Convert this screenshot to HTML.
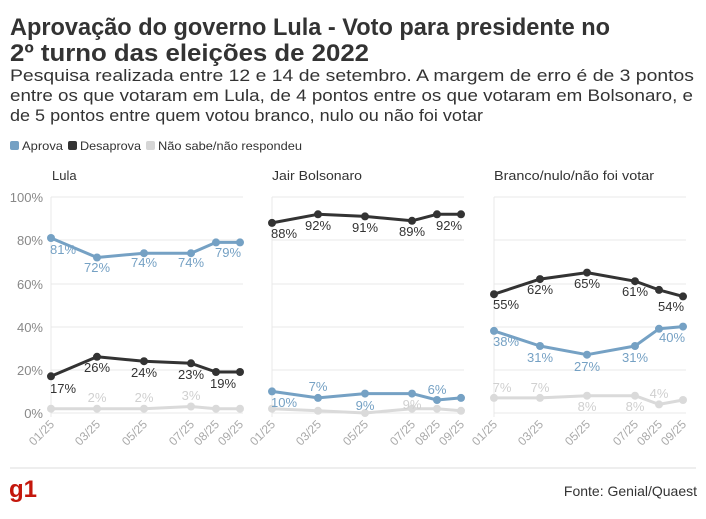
<!DOCTYPE html>
<html><head><meta charset="utf-8"><style>
body{margin:0;width:706px;height:514px;background:#fff;font-family:"Liberation Sans",sans-serif;overflow:hidden}
</style></head><body>
<svg width="706" height="514" xmlns="http://www.w3.org/2000/svg" font-family="Liberation Sans, sans-serif">
<text x="10" y="35" font-size="24" font-weight="bold" fill="#333" textLength="600" lengthAdjust="spacingAndGlyphs">Aprovação do governo Lula - Voto para presidente no</text>
<text x="10" y="61" font-size="24" font-weight="bold" fill="#333" textLength="359" lengthAdjust="spacingAndGlyphs">2º turno das eleições de 2022</text>
<g font-size="17" fill="#333">
<text x="10" y="81" textLength="684" lengthAdjust="spacingAndGlyphs">Pesquisa realizada entre 12 e 14 de setembro. A margem de erro é de 3 pontos</text>
<text x="10" y="101" textLength="683" lengthAdjust="spacingAndGlyphs">entre os que votaram em Lula, de 4 pontos entre os que votaram em Bolsonaro, e</text>
<text x="10" y="121" textLength="473" lengthAdjust="spacingAndGlyphs">de 5 pontos entre quem votou branco, nulo ou não foi votar</text>
</g>
<g font-size="12" fill="#333">
<rect x="10" y="141" width="9" height="9" rx="2" fill="#75a1c4"/><text x="22" y="150" textLength="41" lengthAdjust="spacingAndGlyphs">Aprova</text>
<rect x="68" y="141" width="9" height="9" rx="2" fill="#333"/><text x="80" y="150" textLength="61" lengthAdjust="spacingAndGlyphs">Desaprova</text>
<rect x="146" y="141" width="9" height="9" rx="2" fill="#d6d6d6"/><text x="158" y="150" textLength="144" lengthAdjust="spacingAndGlyphs">Não sabe/não respondeu</text>
<text x="52" y="180" font-size="13">Lula</text>
<text x="272" y="180" font-size="13" textLength="90" lengthAdjust="spacingAndGlyphs">Jair Bolsonaro</text>
<text x="494" y="180" font-size="13" textLength="160" lengthAdjust="spacingAndGlyphs">Branco/nulo/não foi votar</text>
</g>
<g stroke="#e8e8e8" stroke-width="1">
<path d="M51 197H243M51 240H243M51 284H243M51 327H243M51 370H243M51 413H243"/>
<path d="M272 197H464M272 240H464M272 284H464M272 327H464M272 370H464M272 413H464"/>
<path d="M494 197H686M494 240H686M494 284H686M494 327H686M494 370H686M494 413H686"/>
<path d="M51 197V417M272 197V417M494 197V417"/>
</g>
<g font-size="13" fill="#888" text-anchor="end">
<text x="43" y="202">100%</text><text x="43" y="245">80%</text><text x="43" y="289">60%</text><text x="43" y="332">40%</text><text x="43" y="375">20%</text><text x="43" y="418">0%</text>
</g>
<g font-size="12" fill="#aaa" text-anchor="end">
<text transform="translate(55,425) rotate(-45)">01/25</text><text transform="translate(101,425) rotate(-45)">03/25</text><text transform="translate(148,425) rotate(-45)">05/25</text><text transform="translate(195,425) rotate(-45)">07/25</text><text transform="translate(220,425) rotate(-45)">08/25</text><text transform="translate(244,425) rotate(-45)">09/25</text>
<text transform="translate(276,425) rotate(-45)">01/25</text><text transform="translate(322,425) rotate(-45)">03/25</text><text transform="translate(369,425) rotate(-45)">05/25</text><text transform="translate(416,425) rotate(-45)">07/25</text><text transform="translate(441,425) rotate(-45)">08/25</text><text transform="translate(465,425) rotate(-45)">09/25</text>
<text transform="translate(498,425) rotate(-45)">01/25</text><text transform="translate(544,425) rotate(-45)">03/25</text><text transform="translate(591,425) rotate(-45)">05/25</text><text transform="translate(639,425) rotate(-45)">07/25</text><text transform="translate(663,425) rotate(-45)">08/25</text><text transform="translate(687,425) rotate(-45)">09/25</text>
</g>
<g fill="none" stroke-width="3" stroke-linejoin="round">
<polyline stroke="#dadada" points="51,408.7 97,408.7 144,408.7 191,406.5 216,408.7 240,408.7"/>
<polyline stroke="#75a1c4" points="51,238 97,257.5 144,253.2 191,253.2 216,242.4 240,242.4"/>
<polyline stroke="#333" points="51,376.3 97,356.8 144,361.2 191,363.3 216,372 240,372"/>
<polyline stroke="#dadada" points="272,408.7 318,410.8 365,413 412,408.7 437,408.7 461,410.8"/>
<polyline stroke="#75a1c4" points="272,391.4 318,397.9 365,393.6 412,393.6 437,400 461,397.9"/>
<polyline stroke="#333" points="272,222.9 318,214.3 365,216.4 412,220.8 437,214.3 461,214.3"/>
<polyline stroke="#dadada" points="494,397.9 540,397.9 587,395.7 635,395.7 659,404.4 683,400"/>
<polyline stroke="#75a1c4" points="494,330.9 540,346 587,354.7 635,346 659,328.8 683,326.6"/>
<polyline stroke="#333" points="494,294.2 540,279.1 587,272.6 635,281.2 659,289.9 683,296.4"/>
</g>
<g fill="#dadada"><circle cx="51" cy="408.7" r="4"/><circle cx="97" cy="408.7" r="4"/><circle cx="144" cy="408.7" r="4"/><circle cx="191" cy="406.5" r="4"/><circle cx="216" cy="408.7" r="4"/><circle cx="240" cy="408.7" r="4"/>
<circle cx="272" cy="408.7" r="4"/><circle cx="318" cy="410.8" r="4"/><circle cx="365" cy="413" r="4"/><circle cx="412" cy="408.7" r="4"/><circle cx="437" cy="408.7" r="4"/><circle cx="461" cy="410.8" r="4"/>
<circle cx="494" cy="397.9" r="4"/><circle cx="540" cy="397.9" r="4"/><circle cx="587" cy="395.7" r="4"/><circle cx="635" cy="395.7" r="4"/><circle cx="659" cy="404.4" r="4"/><circle cx="683" cy="400" r="4"/></g>
<g fill="#75a1c4"><circle cx="51" cy="238" r="4"/><circle cx="97" cy="257.5" r="4"/><circle cx="144" cy="253.2" r="4"/><circle cx="191" cy="253.2" r="4"/><circle cx="216" cy="242.4" r="4"/><circle cx="240" cy="242.4" r="4"/>
<circle cx="272" cy="391.4" r="4"/><circle cx="318" cy="397.9" r="4"/><circle cx="365" cy="393.6" r="4"/><circle cx="412" cy="393.6" r="4"/><circle cx="437" cy="400" r="4"/><circle cx="461" cy="397.9" r="4"/>
<circle cx="494" cy="330.9" r="4"/><circle cx="540" cy="346" r="4"/><circle cx="587" cy="354.7" r="4"/><circle cx="635" cy="346" r="4"/><circle cx="659" cy="328.8" r="4"/><circle cx="683" cy="326.6" r="4"/></g>
<g fill="#333"><circle cx="51" cy="376.3" r="4"/><circle cx="97" cy="356.8" r="4"/><circle cx="144" cy="361.2" r="4"/><circle cx="191" cy="363.3" r="4"/><circle cx="216" cy="372" r="4"/><circle cx="240" cy="372" r="4"/>
<circle cx="272" cy="222.9" r="4"/><circle cx="318" cy="214.3" r="4"/><circle cx="365" cy="216.4" r="4"/><circle cx="412" cy="220.8" r="4"/><circle cx="437" cy="214.3" r="4"/><circle cx="461" cy="214.3" r="4"/>
<circle cx="494" cy="294.2" r="4"/><circle cx="540" cy="279.1" r="4"/><circle cx="587" cy="272.6" r="4"/><circle cx="635" cy="281.2" r="4"/><circle cx="659" cy="289.9" r="4"/><circle cx="683" cy="296.4" r="4"/></g>
<g font-size="13" text-anchor="middle">
<g fill="#75a1c4"><text x="63" y="254">81%</text><text x="97" y="272">72%</text><text x="144" y="267">74%</text><text x="191" y="267">74%</text><text x="228" y="257">79%</text>
<text x="284" y="407">10%</text><text x="318" y="391">7%</text><text x="365" y="410">9%</text><text x="437" y="394">6%</text>
<text x="506" y="346">38%</text><text x="540" y="362">31%</text><text x="587" y="371">27%</text><text x="635" y="362">31%</text><text x="672" y="342">40%</text></g>
<g fill="#333"><text x="63" y="393">17%</text><text x="97" y="372">26%</text><text x="144" y="377">24%</text><text x="191" y="379">23%</text><text x="223" y="388">19%</text>
<text x="284" y="238">88%</text><text x="318" y="230">92%</text><text x="365" y="232">91%</text><text x="412" y="236">89%</text><text x="449" y="230">92%</text>
<text x="506" y="309">55%</text><text x="540" y="294">62%</text><text x="587" y="288">65%</text><text x="635" y="296">61%</text><text x="671" y="311">54%</text></g>
<g fill="#d0d0d0"><text x="97" y="402">2%</text><text x="144" y="402">2%</text><text x="191" y="400">3%</text><text x="412" y="409">9%</text>
<text x="502" y="392">7%</text><text x="540" y="392">7%</text><text x="587" y="411">8%</text><text x="635" y="411">8%</text><text x="659" y="398">4%</text></g>
</g>
<line x1="10" y1="468" x2="696" y2="468" stroke="#ddd"/>
<text x="9" y="497" font-size="24" font-weight="bold" fill="#c4170c">g1</text>
<text x="697" y="496" font-size="14" fill="#333" text-anchor="end">Fonte: Genial/Quaest</text>
</svg>
</body></html>
